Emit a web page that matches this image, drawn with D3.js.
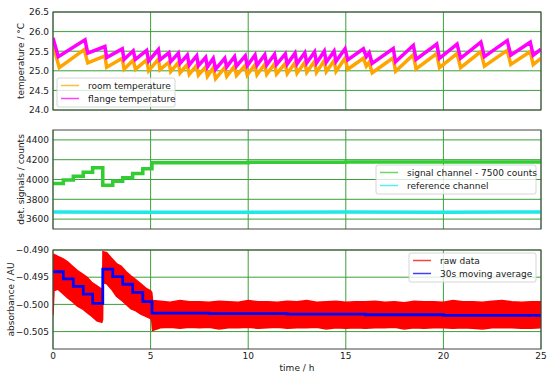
<!DOCTYPE html>
<html lang="en">
<head>
	<meta charset="UTF-8"/>
	<title>Temperature, detector signals and absorbance over time</title>
	<script src="https://d3js.org/d3.v7.min.js"></script>
	<style>
		body { margin: 0; background: #fff; }
		text { font-family: "DejaVu Sans", sans-serif; font-size: 9px; fill: #1a1a1a; }
	</style>
</head>
<body>
<script>
	var w = 550;
	var h = 378;
	var left = 53;
	var right = 541;

	// time axis
	var timeTicks = [0, 5, 10, 15, 20, 25];

	// panel 1 - temperatures (saw tooth turning points)
	var tempTicks = [24.0, 24.5, 25.0, 25.5, 26.0, 26.5];
	var flangeTime = [0, 0.27, 1.64, 1.78, 2.66, 2.75, 3.55, 3.64, 4.11, 4.22, 4.80, 4.90, 5.40, 5.48, 5.94, 6.03, 6.42, 6.51, 6.88, 6.98, 7.36, 7.45, 7.82, 7.91, 8.21, 8.33, 8.80, 8.90, 9.30, 9.40, 9.85, 9.95, 10.35, 10.45, 10.85, 10.95, 11.35, 11.45, 11.90, 12.00, 12.40, 12.50, 12.90, 13.00, 13.40, 13.50, 13.90, 14.00, 14.40, 14.50, 14.96, 15.10, 15.90, 16.05, 16.20, 16.35, 17.43, 17.55, 18.46, 18.60, 19.66, 19.80, 20.70, 20.88, 21.92, 22.10, 23.27, 23.45, 24.45, 24.60, 25.00];
	var flangeTemp = [25.84, 25.36, 25.79, 25.45, 25.62, 25.34, 25.56, 25.29, 25.51, 25.29, 25.52, 25.25, 25.54, 25.28, 25.46, 25.23, 25.45, 25.19, 25.40, 25.15, 25.38, 25.13, 25.34, 25.10, 25.32, 25.04, 25.32, 25.10, 25.36, 25.12, 25.38, 25.13, 25.40, 25.14, 25.41, 25.15, 25.42, 25.16, 25.43, 25.17, 25.45, 25.18, 25.46, 25.20, 25.48, 25.20, 25.50, 25.22, 25.50, 25.24, 25.56, 25.28, 25.56, 25.36, 25.46, 25.19, 25.57, 25.23, 25.65, 25.29, 25.68, 25.32, 25.68, 25.32, 25.73, 25.36, 25.77, 25.40, 25.73, 25.40, 25.55];
	var roomTime = [0, 0.32, 1.60, 1.78, 2.66, 2.75, 3.55, 3.64, 4.11, 4.22, 4.80, 4.90, 5.40, 5.48, 5.94, 6.03, 6.42, 6.51, 6.88, 6.98, 7.36, 7.45, 7.82, 7.91, 8.21, 8.33, 8.80, 8.90, 9.30, 9.40, 9.85, 9.95, 10.35, 10.45, 10.85, 10.95, 11.35, 11.45, 11.90, 12.00, 12.40, 12.50, 12.90, 13.00, 13.40, 13.50, 13.90, 14.00, 14.40, 14.50, 14.96, 15.10, 15.90, 16.05, 16.20, 16.35, 17.43, 17.55, 18.46, 18.60, 19.66, 19.80, 20.70, 20.88, 21.92, 22.10, 23.27, 23.45, 24.45, 24.60, 25.00];
	var roomTemp = [25.66, 25.08, 25.54, 25.20, 25.38, 25.09, 25.32, 25.04, 25.27, 25.04, 25.28, 25.00, 25.30, 25.03, 25.22, 24.98, 25.21, 24.95, 25.16, 24.91, 25.14, 24.89, 25.10, 24.86, 25.08, 24.80, 25.08, 24.86, 25.12, 24.88, 25.14, 24.89, 25.16, 24.90, 25.17, 24.91, 25.18, 24.92, 25.19, 24.93, 25.21, 24.94, 25.22, 24.96, 25.24, 24.96, 25.26, 24.98, 25.26, 24.99, 25.32, 25.04, 25.32, 25.12, 25.22, 24.95, 25.33, 24.99, 25.41, 25.05, 25.44, 25.08, 25.44, 25.08, 25.49, 25.12, 25.52, 25.16, 25.49, 25.16, 25.32];

	// panel 2 - detector signals (step levels)
	var countTicks = [3600, 3800, 4000, 4200, 4400];
	var signalTime = [0, 0.53, 1.04, 1.55, 2.03, 2.55, 3.06, 3.57, 4.08, 4.60, 5.07, 10, 15, 20, 25];
	var signalCounts = [3960, 3995, 4034, 4074, 4119, 3942, 3983, 4017, 4061, 4109, 4170, 4173, 4176, 4178, 4180];
	var refTime = [0, 5, 10, 15, 20, 25];
	var refCounts = [3671, 3670, 3670, 3671, 3670, 3671];

	// panel 3 - absorbance: raw data envelope and moving average
	var absTicks = [-0.505, -0.500, -0.495, -0.490];
	var rawTime = [0, 0.05, 0.25, 0.5, 0.75, 1.0, 1.25, 1.5, 1.75, 2.0, 2.25, 2.5, 2.54, 2.56, 2.75, 3.0, 3.25, 3.5, 3.75, 4.0, 4.25, 4.5, 4.75, 5.0, 5.06, 5.1,
		5.5, 6.0, 6.5, 7.0, 7.5, 8.0, 8.5, 9.0, 9.5, 10.0, 10.5, 11.0, 11.5, 12.0, 12.5, 13.0, 13.5, 14.0, 14.5, 15.0,
		15.5, 16.0, 16.5, 17.0, 17.5, 18.0, 18.5, 19.0, 19.5, 20.0, 20.5, 21.0, 21.5, 22.0, 22.5, 23.0, 23.5, 24.0, 24.5, 25.0];
	var rawUpper = [-0.4930, -0.4908, -0.4912, -0.4916, -0.4922, -0.4930, -0.4938, -0.4944, -0.4950, -0.4960, -0.4966, -0.4972, -0.4975, -0.4903, -0.4905, -0.4915, -0.4925, -0.4930, -0.4940, -0.4948, -0.4955, -0.4962, -0.4970, -0.4975, -0.4978, -0.4993,
		-0.4994, -0.4996, -0.4993, -0.4995, -0.4995, -0.4996, -0.4994, -0.4995, -0.4996, -0.4993, -0.4995, -0.4995, -0.4996, -0.4994, -0.4995, -0.4993, -0.4996, -0.4995, -0.4994, -0.4996,
		-0.4995, -0.4995, -0.4994, -0.4996, -0.4995, -0.4997, -0.4994, -0.4995, -0.4995, -0.4996, -0.4993, -0.4995, -0.4995, -0.4996, -0.4994, -0.4993, -0.4995, -0.4996, -0.4995, -0.4995];
	var rawLower = [-0.5020, -0.4975, -0.4972, -0.4980, -0.4988, -0.4995, -0.5003, -0.5008, -0.5015, -0.5022, -0.5030, -0.5033, -0.5028, -0.4960, -0.4962, -0.4972, -0.4985, -0.4992, -0.5000, -0.5008, -0.5012, -0.5018, -0.5022, -0.5026, -0.5030, -0.5048,
		-0.5043, -0.5042, -0.5044, -0.5042, -0.5043, -0.5042, -0.5045, -0.5043, -0.5043, -0.5042, -0.5044, -0.5043, -0.5042, -0.5044, -0.5043, -0.5043, -0.5042, -0.5045, -0.5043, -0.5044,
		-0.5043, -0.5044, -0.5043, -0.5043, -0.5042, -0.5045, -0.5043, -0.5044, -0.5043, -0.5043, -0.5044, -0.5043, -0.5044, -0.5045, -0.5043, -0.5043, -0.5043, -0.5044, -0.5044, -0.5043];
	var avgTime = [0, 0.53, 1.04, 1.55, 2.03, 2.55, 3.06, 3.57, 4.08, 4.60, 5.07, 8, 12, 16, 20, 25];
	var avgAbs = [-0.4940, -0.4953, -0.4967, -0.4981, -0.4998, -0.4935, -0.4949, -0.4963, -0.4978, -0.4995, -0.5016, -0.5017, -0.5018, -0.5019, -0.5020, -0.5021];

	var gridColour = "#3aa03a";

	var svg = d3.select("body")
		.append("svg")
		.attr("width", w)
		.attr("height", h);

	var xScale = d3.scaleLinear()
		.domain([0, 25])
		.range([left, right]);

	function zip(xs, ys) {
		return xs.map(function(x, i) { return [x, ys[i]]; });
	}

	// one stacked panel: grid, clipped plot group, tick labels, y label
	function makePanel(id, top, bottom, domain, ticks, fmt, label, labelX) {
		var yScale = d3.scaleLinear().domain(domain).range([bottom, top]);

		svg.append("clipPath")
			.attr("id", id)
			.append("rect")
			.attr("x", left)
			.attr("y", top)
			.attr("width", right - left)
			.attr("height", bottom - top);

		var grid = svg.append("g");
		grid.selectAll("line.h")
			.data(ticks)
			.enter()
			.append("line")
			.attr("x1", left)
			.attr("x2", right)
			.attr("y1", function(d) { return yScale(d); })
			.attr("y2", function(d) { return yScale(d); })
			.attr("stroke", gridColour)
			.attr("stroke-width", 1);
		grid.selectAll("line.v")
			.data(timeTicks)
			.enter()
			.append("line")
			.attr("x1", function(d) { return xScale(d); })
			.attr("x2", function(d) { return xScale(d); })
			.attr("y1", top)
			.attr("y2", bottom)
			.attr("stroke", gridColour)
			.attr("stroke-width", 1);

		svg.selectAll("text.t" + id)
			.data(ticks)
			.enter()
			.append("text")
			.attr("x", left - 4)
			.attr("y", function(d) { return yScale(d) + 3.3; })
			.attr("text-anchor", "end")
			.text(function(d) { return fmt(d); });

		svg.append("text")
			.attr("transform", "translate(" + labelX + "," + ((top + bottom) / 2) + ") rotate(-90)")
			.attr("text-anchor", "middle")
			.text(label);

		var plot = svg.append("g").attr("clip-path", "url(#" + id + ")");
		return { y: yScale, plot: plot, top: top, bottom: bottom };
	}

	function frame(p) {
		svg.append("rect")
			.attr("x", left)
			.attr("y", p.top)
			.attr("width", right - left)
			.attr("height", p.bottom - p.top)
			.attr("fill", "none")
			.attr("stroke", "#444")
			.attr("stroke-width", 1);
	}

	function legend(x, y, bw, entries) {
		var g = svg.append("g");
		g.append("rect")
			.attr("x", x)
			.attr("y", y)
			.attr("width", bw)
			.attr("height", 29)
			.attr("rx", 2)
			.attr("fill", "white")
			.attr("fill-opacity", 0.8)
			.attr("stroke", "#cccccc")
			.attr("stroke-width", 0.8);
		entries.forEach(function(e, i) {
			var ly = y + 7.5 + i * 13;
			g.append("line")
				.attr("x1", x + 4)
				.attr("x2", x + 22)
				.attr("y1", ly)
				.attr("y2", ly)
				.attr("stroke", e.colour)
				.attr("stroke-opacity", 0.75)
				.attr("stroke-width", 1.5);
			g.append("text")
				.attr("x", x + 31)
				.attr("y", ly + 3.3)
				.text(e.label);
		});
	}

	var line = function(p) {
		return d3.line()
			.x(function(d) { return xScale(d[0]); })
			.y(function(d) { return p.y(d[1]); });
	};

	// ---- panel 1
	var p1 = makePanel("c1", 12, 110, [24.0, 26.5], tempTicks, d3.format(".1f"), "temperature / °C", 23.5);
	p1.plot.append("path")
		.datum(zip(roomTime, roomTemp))
		.attr("d", line(p1))
		.attr("fill", "none")
		.attr("stroke", "#ffa500")
		.attr("stroke-width", 3.5);
	p1.plot.append("path")
		.datum(zip(flangeTime, flangeTemp))
		.attr("d", line(p1))
		.attr("fill", "none")
		.attr("stroke", "#ff00ff")
		.attr("stroke-width", 3.5);
	frame(p1);
	legend(57, 78, 118, [
		{ colour: "#ffa500", label: "room temperature" },
		{ colour: "#ff00ff", label: "flange temperature" }
	]);

	// ---- panel 2
	var p2 = makePanel("c2", 130, 229, [3500, 4500], countTicks, d3.format("d"), "det. signals / counts", 23.5);
	p2.plot.append("path")
		.datum(zip(signalTime, signalCounts))
		.attr("d", line(p2).curve(d3.curveStepAfter))
		.attr("fill", "none")
		.attr("stroke", "#32cd32")
		.attr("stroke-width", 3.5);
	p2.plot.append("path")
		.datum(zip(refTime, refCounts))
		.attr("d", line(p2))
		.attr("fill", "none")
		.attr("stroke", "#1ee8e8")
		.attr("stroke-width", 3.5);
	frame(p2);
	legend(376, 165, 160, [
		{ colour: "#32cd32", label: "signal channel - 7500 counts" },
		{ colour: "#1ee8e8", label: "reference channel" }
	]);

	// ---- panel 3
	var p3 = makePanel("c3", 250, 349, [-0.5082, -0.490], absTicks, d3.format(".3f"), "absorbance / AU", 14);
	var rawBand = d3.area()
		.x(function(d, i) { return xScale(rawTime[i]); })
		.y0(function(d, i) { return p3.y(rawLower[i]); })
		.y1(function(d, i) { return p3.y(rawUpper[i]); });
	p3.plot.append("path")
		.datum(rawTime)
		.attr("d", rawBand)
		.attr("fill", "#ff0000")
		.attr("stroke", "#ff0000")
		.attr("stroke-width", 1.5);
	p3.plot.append("path")
		.datum(zip(avgTime, avgAbs))
		.attr("d", line(p3).curve(d3.curveStepAfter))
		.attr("fill", "none")
		.attr("stroke", "#0000ff")
		.attr("stroke-width", 2.8);
	frame(p3);
	legend(409, 253, 127, [
		{ colour: "#ff0000", label: "raw data" },
		{ colour: "#0000ff", label: "30s moving average" }
	]);

	// shared time axis labels
	svg.selectAll("text.x")
		.data(timeTicks)
		.enter()
		.append("text")
		.attr("x", function(d) { return xScale(d); })
		.attr("y", 359)
		.attr("text-anchor", "middle")
		.text(function(d) { return d; });

	svg.append("text")
		.attr("x", (left + right) / 2)
		.attr("y", 371)
		.attr("text-anchor", "middle")
		.text("time / h");
</script>
</body>
</html>
